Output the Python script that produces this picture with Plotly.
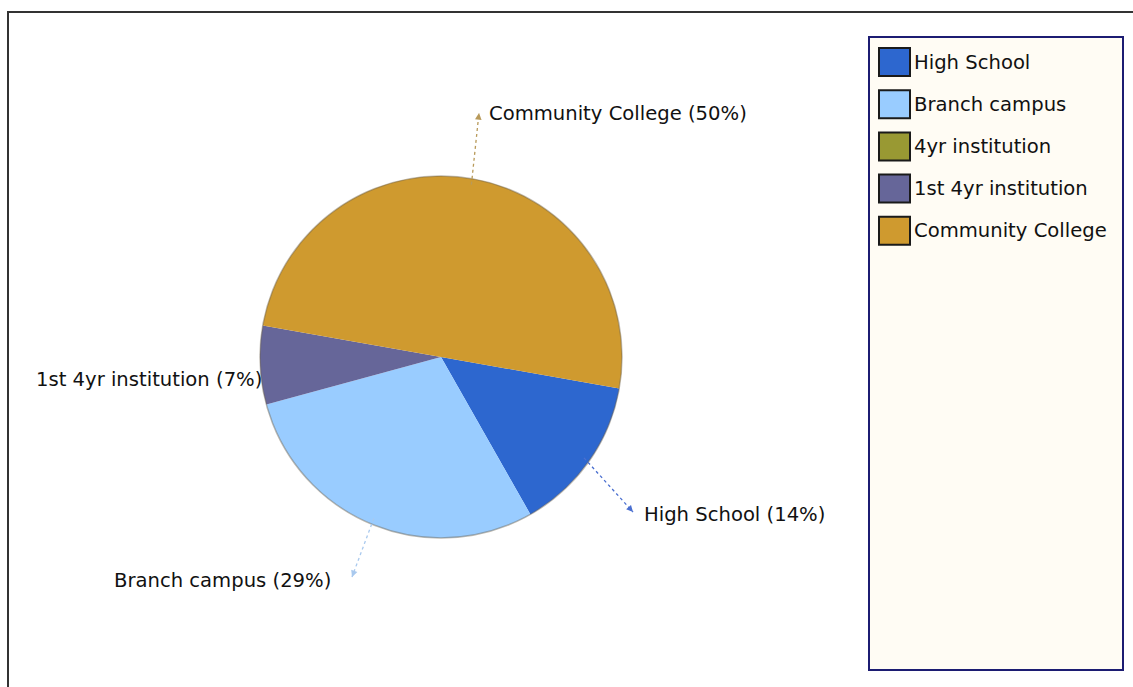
import math
import plotly.graph_objects as go

# Share of students by institution type
categories = ["High School", "Branch campus", "4yr institution",
              "1st 4yr institution", "Community College"]
shares = [14, 29, 0, 7, 50]
slice_colors = ["#2d67cf", "#99ccff", "#999933", "#666699", "#cf9a2f"]

W, H = 1133, 687
FONT = "DejaVu Sans"
FONT_SIZE = 19.6

# Pie placement in pixels
CX, CY, R = 441, 357, 181
ROTATION = 100  # degrees clockwise from 12 o'clock where the first slice starts


def px(x, y):
    """Pixel position -> paper coordinates."""
    return x / W, 1 - y / H


fig = go.Figure()

x0, y1 = px(CX - R, CY - R)
x1, y0 = px(CX + R, CY + R)
fig.add_trace(go.Pie(
    labels=categories,
    values=shares,
    marker=dict(colors=slice_colors, line=dict(width=0)),
    sort=False,
    direction="clockwise",
    rotation=ROTATION,
    textinfo="none",
    hoverinfo="label+percent",
    showlegend=False,
    domain=dict(x=[x0, x1], y=[y0, y1]),
))

shapes = []
annotations = []

# soft rim around the pie
shapes.append(dict(type="circle", xref="paper", yref="paper",
                   x0=x0, x1=x1, y0=y0, y1=y1,
                   line=dict(color="rgba(110,100,80,0.45)", width=1.5)))

# outer frame (top and left edges visible)
fx0, fy1 = px(8, 12)
fx1, fy0 = px(W + 10, H + 10)
shapes.append(dict(type="rect", xref="paper", yref="paper",
                   x0=fx0, x1=fx1, y0=fy0, y1=fy1,
                   line=dict(color="#333333", width=2)))


def mid_point(idx, extra=0):
    total = sum(shares)
    start = sum(shares[:idx]) / total
    mid = start + shares[idx] / total / 2
    ang = math.radians(90 - ROTATION - mid * 360)
    r = R + extra
    return CX + r * math.cos(ang), CY - r * math.sin(ang)


# callout placement: (arrow tip, label anchor, anchor side, arrow colour)
callouts = {
    "Community College": ((479, 113), (487, 113), "left", "#b89a5a"),
    "High School": ((633, 512), (642, 514), "left", "#4a6fd0"),
    "Branch campus": ((352, 577), (333, 580), "right", "#a9c9ee"),
    "1st 4yr institution": (None, (264, 379), "right", None),
}

for i, (cat, val) in enumerate(zip(categories, shares)):
    if cat not in callouts:
        continue
    tip, anchor, side, acol = callouts[cat]
    if tip is not None:
        sx, sy = mid_point(i, extra=-6)
        a0x, a0y = px(sx, sy)
        tx, ty = px(*tip)
        shapes.append(dict(type="line", xref="paper", yref="paper",
                           x0=a0x, y0=a0y, x1=tx, y1=ty,
                           line=dict(color=acol, width=1.3, dash="dot")))
        # arrow head at the label end
        dx, dy = tip[0] - sx, tip[1] - sy
        n = math.hypot(dx, dy)
        annotations.append(dict(
            x=tx, y=ty, xref="paper", yref="paper", text="",
            showarrow=True, arrowhead=2, arrowsize=1.1, arrowwidth=1.2,
            arrowcolor=acol, standoff=0,
            ax=-dx / n * 7, ay=-dy / n * 7,
        ))
    lx, ly = px(*anchor)
    annotations.append(dict(
        x=lx, y=ly, xref="paper", yref="paper",
        text=f"{cat} ({val}%)", showarrow=False,
        xanchor=side, yanchor="middle",
        font=dict(family=FONT, size=FONT_SIZE, color="#111111"),
    ))

# legend panel
lx0, ly1 = px(869, 37)
lx1, ly0 = px(1123, 670)
shapes.append(dict(type="rect", xref="paper", yref="paper",
                   x0=lx0, x1=lx1, y0=ly0, y1=ly1,
                   fillcolor="#fffcf4", line=dict(color="#1c1c72", width=2),
                   layer="below"))

for i, (cat, col) in enumerate(zip(categories, slice_colors)):
    top = 48 + i * 42.2
    sx0, sy1 = px(879, top)
    sx1, sy0 = px(910, top + 28)
    shapes.append(dict(type="rect", xref="paper", yref="paper",
                       x0=sx0, x1=sx1, y0=sy0, y1=sy1,
                       fillcolor=col, line=dict(color="#1a1a1a", width=2)))
    tx, ty = px(912, top + 14)
    annotations.append(dict(
        x=tx, y=ty, xref="paper", yref="paper", text=cat,
        showarrow=False, xanchor="left", yanchor="middle",
        font=dict(family=FONT, size=FONT_SIZE, color="#111111"),
    ))

fig.update_layout(
    width=W, height=H,
    margin=dict(l=0, r=0, t=0, b=0),
    paper_bgcolor="white",
    plot_bgcolor="white",
    shapes=shapes,
    annotations=annotations,
    showlegend=False,
)

fig.write_html("out.html")
